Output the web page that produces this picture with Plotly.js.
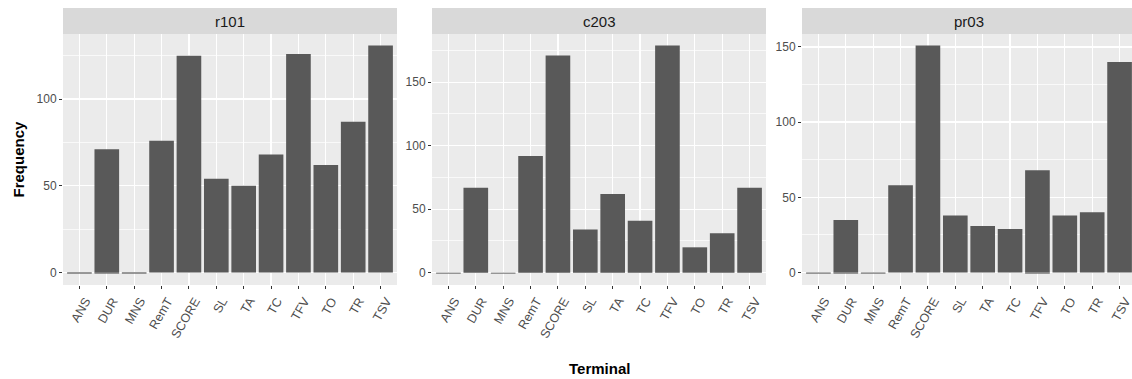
<!DOCTYPE html>
<html>
<head>
<meta charset="utf-8">
<script src="https://cdn.plot.ly/plotly-3.0.1.min.js"></script>
<style>
html,body{margin:0;padding:0;overflow:hidden;background:#fff;}
#chart{width:1140px;height:379px;}
</style>
</head>
<body>
<div id="chart"></div>
<script>
// ---- data ----
const categories = ['ANS','DUR','MNS','RemT','SCORE','SL','TA','TC','TFV','TO','TR','TSV'];
const panelNames = ['r101','c203','pr03'];
const r101 = [0, 71, 0, 76, 125, 54, 50, 68, 126, 62, 87, 131];
const r101Neg = [-0.7, -0.7, -0.7, 0, 0, 0, 0, 0, 0, 0, 0, 0];
const c203 = [0, 67, 0, 92, 171, 34, 62, 41, 179, 20, 31, 67];
const c203Neg = [-0.7, 0, -0.7, 0, 0, 0, 0, 0, 0, 0, 0, 0];
const pr03 = [0, 35, 0, 58, 151, 38, 31, 29, 68, 38, 40, 140];
const pr03Neg = [-0.7, -0.7, -0.7, 0, 0, 0, 0, 0, -0.7, 0, 0, 0];
const yTicks = [0, 50, 100, 150];
const xTitle = 'Terminal';
const yTitle = 'Frequency';

// ---- layout geometry (pixels) ----
const W = 1140, H = 379;
const panelX = [[63, 397], [432, 766], [802, 1136]];
const plotTop = 34, plotBottom = 285, stripTop = 8;
const FONT = '"Liberation Sans", Arial, Helvetica, sans-serif';
const barColor = '#595959';

const series = [[r101, r101Neg], [c203, c203Neg], [pr03, pr03Neg]];
const traces = [];
const layout = {
  width: W, height: H,
  margin: {l: 0, r: 0, t: 0, b: 0},
  paper_bgcolor: '#ffffff',
  plot_bgcolor: '#EBEBEB',
  barmode: 'relative',
  bargap: 0.1,
  showlegend: false,
  font: {family: FONT, color: '#4D4D4D'},
  shapes: [],
  annotations: []
};

const yDom = [(H - plotBottom) / H, (H - plotTop) / H];

series.forEach((s, i) => {
  const pos = s[0], neg = s[1];
  const suffix = i === 0 ? '' : String(i + 1);
  const xa = 'x' + suffix, ya = 'y' + suffix;
  traces.push({type: 'bar', x: categories, y: pos, xaxis: xa, yaxis: ya,
    marker: {color: barColor, line: {width: 0}}, hoverinfo: 'x+y'});
  traces.push({type: 'bar', x: categories, y: neg, xaxis: xa, yaxis: ya,
    marker: {color: barColor, line: {width: 0}}, hoverinfo: 'x+y'});
  const lo = Math.min(0, ...neg);
  const hi = Math.max(...pos);
  const span = hi - lo;
  const yr = [lo - 0.05 * span, hi + 0.05 * span];
  const xd = [panelX[i][0] / W, panelX[i][1] / W];
  layout['xaxis' + suffix] = {
    domain: xd, anchor: ya, type: 'category',
    categoryorder: 'array', categoryarray: categories,
    range: [-0.6, categories.length - 0.4],
    showgrid: true, gridcolor: '#ffffff', gridwidth: 1.3,
    zeroline: false, showline: false,
    ticks: 'outside', ticklen: 3, tickwidth: 1, tickcolor: '#333333',
    tickangle: -60, ticklabelshift: 6,
    tickfont: {size: 12.5, color: '#4D4D4D', family: FONT},
    fixedrange: true
  };
  layout['yaxis' + suffix] = {
    domain: yDom, anchor: xa, range: yr,
    tickmode: 'array', tickvals: yTicks, ticktext: yTicks.map(String),
    showgrid: true, gridcolor: '#ffffff', gridwidth: 1.3,
    minor: {tickmode: 'array', tickvals: [25, 75, 125, 175], showgrid: true, gridcolor: '#ffffff', gridwidth: 0.7, ticks: ''},
    zeroline: false, showline: false,
    ticks: 'outside', ticklen: 3, tickwidth: 1, tickcolor: '#333333',
    tickfont: {size: 12, color: '#4D4D4D', family: FONT},
    fixedrange: true
  };
  // strip
  layout.shapes.push({type: 'rect', xref: 'paper', yref: 'paper',
    x0: xd[0], x1: xd[1], y0: (H - plotTop) / H, y1: (H - stripTop) / H,
    fillcolor: '#D9D9D9', line: {width: 0}, layer: 'below'});
  layout.annotations.push({xref: 'paper', yref: 'paper',
    x: (xd[0] + xd[1]) / 2, y: (H - (plotTop + stripTop) / 2) / H,
    xanchor: 'center', yanchor: 'middle', showarrow: false,
    text: panelNames[i], font: {size: 15, color: '#1A1A1A', family: FONT}});
});

layout.annotations.push({xref: 'paper', yref: 'paper',
  x: ((panelX[0][0] + panelX[2][1]) / 2) / W, y: (H - 368) / H,
  xanchor: 'center', yanchor: 'middle', showarrow: false,
  text: '<b>' + xTitle + '</b>', font: {size: 15, color: '#000000', family: FONT}});
layout.annotations.push({xref: 'paper', yref: 'paper',
  x: 18 / W, y: (H - (plotTop + plotBottom) / 2) / H,
  xanchor: 'center', yanchor: 'middle', showarrow: false, textangle: -90,
  text: '<b>' + yTitle + '</b>', font: {size: 15, color: '#000000', family: FONT}});

Plotly.newPlot('chart', traces, layout, {displayModeBar: false, staticPlot: true});
</script>
</body>
</html>
